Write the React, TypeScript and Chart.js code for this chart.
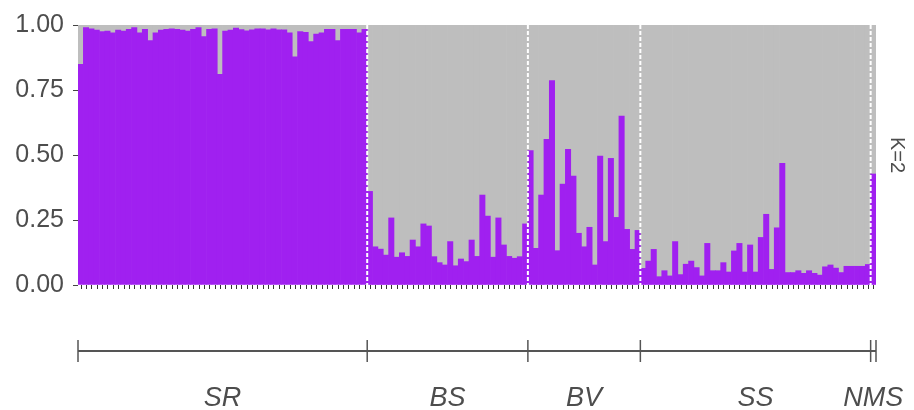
import React, { useEffect, useRef } from "react";
import { Chart, registerables } from "chart.js";
Chart.register(...registerables);

// Ancestry proportion (cluster 1, purple) per individual, by population
const SR = [
  0.849, 0.99, 0.985, 0.98, 0.975, 0.977, 0.97, 0.98, 0.977, 0.983,
  0.99, 0.97, 0.983, 0.94, 0.97, 0.98, 0.983, 0.985, 0.983, 0.98,
  0.977, 0.983, 0.99, 0.955, 0.983, 0.985, 0.81, 0.977, 0.98, 0.988,
  0.982, 0.978, 0.981, 0.985, 0.985, 0.981, 0.985, 0.981, 0.981, 0.97,
  0.878, 0.975, 0.972, 0.936, 0.965, 0.97, 0.983, 0.983, 0.94, 0.983,
  0.983, 0.983, 0.97, 0.983,
];
const BS = [
  0.36, 0.147, 0.138, 0.115, 0.258, 0.107, 0.124, 0.11, 0.173, 0.147,
  0.235, 0.227, 0.109, 0.086, 0.077, 0.167, 0.074, 0.1, 0.09, 0.173,
  0.11, 0.346, 0.265, 0.107, 0.258, 0.154, 0.11, 0.103, 0.109, 0.235,
];
const BV = [
  0.517, 0.141, 0.346, 0.56, 0.786, 0.132, 0.388, 0.522, 0.419, 0.199,
  0.147, 0.222, 0.077, 0.496, 0.167, 0.487, 0.26, 0.65, 0.214, 0.137,
  0.21,
];
const SS = [
  0.064, 0.092, 0.137, 0.032, 0.055, 0.035, 0.167, 0.04, 0.08, 0.092,
  0.067, 0.035, 0.16, 0.055, 0.055, 0.086, 0.05, 0.131, 0.16, 0.05,
  0.154, 0.05, 0.183, 0.272, 0.06, 0.22, 0.468, 0.048, 0.048, 0.055,
  0.045, 0.055, 0.045, 0.038, 0.07, 0.077, 0.065, 0.048, 0.072, 0.072,
  0.072, 0.072, 0.079,
];
const NMS = [0.427];

const groupNames = ["SR", "BS", "BV", "SS", "NMS"];
const groupValues = [SR, BS, BV, SS, NMS];
const yTicks = [0, 0.25, 0.5, 0.75, 1];
const stripLabel = "K=2";

const PURPLE = "#A020F0";
const GRAY = "#BEBEBE";
const FONT = "'Liberation Sans', Arial, sans-serif";

export default function App() {
  const ref = useRef<HTMLCanvasElement | null>(null);

  useEffect(() => {
    if (!ref.current) return;
    const purple: number[] = [];
    const labels: string[] = [];
    const bounds: number[] = [0];
    groupValues.forEach((g, gi) => {
      g.forEach((v, i) => {
        purple.push(v);
        labels.push(groupNames[gi] + (i + 1));
      });
      bounds.push(purple.length);
    });
    const rest = purple.map((v) => 1 - v);

    const overlay = {
      id: "overlay",
      afterDatasetsDraw(chart: any) {
        const { ctx, chartArea } = chart;
        const xs = chart.scales.x;
        const n = purple.length;
        const w = (chartArea.right - chartArea.left) / n;
        const edge = (k: number) => chartArea.left + k * w;
        ctx.save();
        // small ticks under each bar
        ctx.strokeStyle = "#333333";
        ctx.lineWidth = 1;
        for (let i = 0; i < n; i++) {
          const px = Math.round(xs.getPixelForValue(i)) + 0.5;
          ctx.beginPath();
          ctx.moveTo(px, chartArea.bottom);
          ctx.lineTo(px, chartArea.bottom + 4);
          ctx.stroke();
        }
        // dashed white separators
        ctx.strokeStyle = "#FFFFFF";
        ctx.lineWidth = 2;
        ctx.setLineDash([4, 2]);
        for (let k = 1; k < bounds.length - 1; k++) {
          const px = edge(bounds[k]);
          ctx.beginPath();
          ctx.moveTo(px, chartArea.top);
          ctx.lineTo(px, chartArea.bottom + 4);
          ctx.stroke();
        }
        ctx.setLineDash([]);
        // group axis
        const yLine = 351;
        ctx.strokeStyle = "#555555";
        ctx.lineWidth = 2;
        ctx.beginPath();
        ctx.moveTo(edge(0), yLine);
        ctx.lineTo(edge(n), yLine);
        ctx.stroke();
        ctx.lineWidth = 1.5;
        for (let k = 0; k < bounds.length; k++) {
          const px = edge(bounds[k]);
          ctx.beginPath();
          ctx.moveTo(px, yLine - 11);
          ctx.lineTo(px, yLine + 11);
          ctx.stroke();
        }
        // group labels
        ctx.fillStyle = "#4D4D4D";
        ctx.font = `italic 27px ${FONT}`;
        ctx.textAlign = "center";
        ctx.textBaseline = "middle";
        for (let g = 0; g < groupNames.length; g++) {
          const cx = (edge(bounds[g]) + edge(bounds[g + 1])) / 2;
          ctx.fillText(groupNames[g], cx, 398);
        }
        // strip label
        ctx.font = `20px ${FONT}`;
        ctx.translate(chartArea.right + 21, (chartArea.top + chartArea.bottom) / 2);
        ctx.rotate(Math.PI / 2);
        ctx.fillText(stripLabel, 0, 0);
        ctx.restore();
      },
    };

    const chart = new Chart(ref.current, {
      type: "bar",
      data: {
        labels,
        datasets: [
          { data: purple, backgroundColor: PURPLE, borderWidth: 0, barPercentage: 1, categoryPercentage: 1 },
          { data: rest, backgroundColor: GRAY, borderWidth: 0, barPercentage: 1, categoryPercentage: 1 },
        ],
      },
      options: {
        animation: false,
        responsive: false,
        devicePixelRatio: 1,
        layout: { padding: { left: 0, top: 25, right: 38, bottom: 125 } },
        plugins: { legend: { display: false }, tooltip: { enabled: false } },
        scales: {
          x: { stacked: true, display: false },
          y: {
            stacked: true,
            min: 0,
            max: 1,
            afterFit: (s: any) => {
              s.width = 78;
            },
            afterBuildTicks: (s: any) => {
              s.ticks = yTicks.map((v) => ({ value: v }));
            },
            ticks: {
              callback: (v: any) => Number(v).toFixed(2),
              color: "#4D4D4D",
              font: { size: 25, family: FONT },
              padding: 9,
            },
            grid: { drawOnChartArea: false, drawTicks: true, tickLength: 5, color: "#444444" },
            border: { display: false },
          },
        },
      },
      plugins: [overlay],
    });
    return () => chart.destroy();
  }, []);

  return (
    <div style={{ position: "absolute", left: 0, top: 0, width: 914, height: 410, background: "#fff" }}>
      <canvas ref={ref} width={914} height={410} />
    </div>
  );
}
